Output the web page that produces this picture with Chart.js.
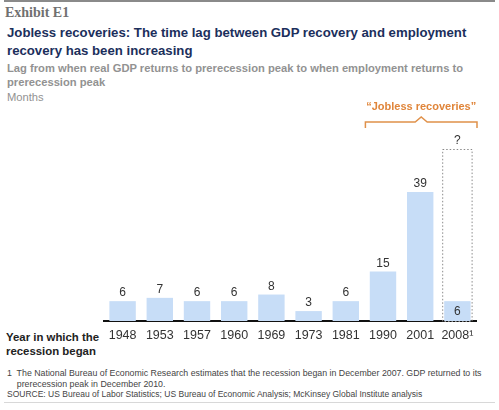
<!DOCTYPE html>
<html>
<head>
<meta charset="utf-8">
<script src="https://cdn.jsdelivr.net/npm/chart.js@4.4.1/dist/chart.umd.min.js"></script>
<style>
  html, body { margin:0; padding:0; background:#fff; }
  #wrap { position:relative; width:499px; height:410px; overflow:hidden; font-family:"Liberation Sans", Arial, sans-serif; }
  .t { position:absolute; left:7px; white-space:nowrap; }
  canvas { position:absolute; left:0; top:0; }
</style>
</head>
<body>
<div id="wrap">
  <div style="position:absolute;left:4px;top:0;width:491px;height:2px;background:#8a8a8a;"></div>
  <div class="t" style="left:5px;top:4px;font-family:'Liberation Serif','DejaVu Serif',serif;font-weight:bold;font-size:14px;line-height:18px;color:#707070;">Exhibit E1</div>
  <div class="t" style="top:24px;font-weight:bold;font-size:13.2px;line-height:18px;color:#1c2f5c;">Jobless recoveries: The time lag between GDP recovery and employment<br>recovery has been increasing</div>
  <div class="t" style="top:61px;font-weight:bold;font-size:11.2px;line-height:14px;color:#929292;">Lag from when real GDP returns to prerecession peak to when employment returns to<br>prerecession peak</div>
  <div class="t" style="top:90px;font-size:11.2px;line-height:14px;color:#929292;">Months</div>
  <div class="t" style="left:6px;top:330px;font-weight:bold;font-size:11.4px;line-height:14px;color:#222;">Year in which the<br>recession began</div>
  <div class="t" style="top:368px;font-size:8.8px;line-height:10.5px;color:#444;">1&nbsp; The National Bureau of Economic Research estimates that the recession began in December 2007. GDP returned to its<br>&nbsp;&nbsp;&nbsp;&nbsp;prerecession peak in December 2010.</div>
  <div class="t" style="top:389px;font-size:8.5px;line-height:11px;color:#444;">SOURCE: US Bureau of Labor Statistics; US Bureau of Economic Analysis; McKinsey Global Institute analysis</div>
  <div style="position:absolute;left:4px;top:402px;width:491px;height:1px;background:#d8d8d8;"></div>
  <canvas id="c" width="499" height="410"></canvas>
</div>
<script>
const years = ["1948","1953","1957","1960","1969","1973","1981","1990","2001","2008\u00B9"];
const lagMonths = [6, 7, 6, 6, 8, 3, 6, 15, 39, 6];
const unknownUpper = [null, null, null, null, null, null, null, null, null, 52];
const unknownLabel = "?";
const joblessGroup = ["1990", "2008\u00B9"];
const joblessText = "\u201CJobless recoveries\u201D";

const overlay = {
  id: 'overlay',
  beforeDatasetsDraw(chart) {
    const ctx = chart.ctx;
    const y = chart.scales.y;
    const meta = chart.getDatasetMeta(0);
    ctx.save();
    unknownUpper.forEach((v, i) => {
      if (v == null) return;
      const bar = meta.data[i];
      const half = bar.width / 2 + 2;
      const top = y.getPixelForValue(v);
      const bot = y.getPixelForValue(0);
      ctx.strokeStyle = '#8a8a8a';
      ctx.lineWidth = 1;
      ctx.setLineDash([1.5, 2]);
      ctx.strokeRect(bar.x - half + 0.5, top + 0.5, half * 2 - 1, bot - top);
      ctx.setLineDash([]);
    });
    ctx.restore();
  },
  afterDatasetsDraw(chart) {
    const ctx = chart.ctx;
    const x = chart.scales.x, y = chart.scales.y;
    const meta = chart.getDatasetMeta(0);
    ctx.save();
    ctx.font = '12px "Liberation Sans", Arial, sans-serif';
    ctx.fillStyle = '#333';
    ctx.textAlign = 'center';
    ctx.textBaseline = 'middle';
    lagMonths.forEach((v, i) => {
      const bar = meta.data[i];
      if (unknownUpper[i] != null) {
        ctx.fillText(String(v), bar.x, (bar.y + bar.base) / 2 + 1);
        ctx.fillText(unknownLabel, bar.x, y.getPixelForValue(unknownUpper[i]) - 8);
      } else {
        ctx.fillText(String(v), bar.x, bar.y - 8);
      }
    });
    const i0 = years.indexOf(joblessGroup[0]), i1 = years.indexOf(joblessGroup[1]);
    const step = x.getPixelForValue(1) - x.getPixelForValue(0);
    const xl = x.getPixelForValue(i0) - step / 2 + 1;
    const xr = x.getPixelForValue(i1) + step / 2 + 1;
    const xm = (xl + xr) / 2;
    const by = chart.chartArea.top - 27;
    ctx.strokeStyle = '#e0914a';
    ctx.lineWidth = 1.5;
    ctx.beginPath();
    ctx.moveTo(xl, by + 6);
    ctx.lineTo(xl, by);
    ctx.lineTo(xm - 6, by);
    ctx.lineTo(xm, by - 5);
    ctx.lineTo(xm + 6, by);
    ctx.lineTo(xr, by);
    ctx.lineTo(xr, by + 6);
    ctx.stroke();
    ctx.fillStyle = '#e0853a';
    ctx.font = 'bold 11px "Liberation Sans", Arial, sans-serif';
    ctx.fillText(joblessText, xm, by - 15);
    ctx.restore();
  }
};

new Chart(document.getElementById('c'), {
  type: 'bar',
  data: {
    labels: years,
    datasets: [{
      data: lagMonths,
      backgroundColor: '#c7ddf7',
      borderWidth: 0,
      categoryPercentage: 1,
      barPercentage: 0.71
    }]
  },
  options: {
    responsive: false,
    animation: false,
    events: [],
    layout: { padding: { left: 104, right: 23, top: 149, bottom: 60 } },
    plugins: { legend: { display: false }, tooltip: { enabled: false }, title: { display: false } },
    scales: {
      x: {
        grid: { display: false, drawTicks: false },
        border: { display: true, color: '#111', width: 2 },
        ticks: { color: '#333', font: { family: '"Liberation Sans", Arial, sans-serif', size: 12.5 }, padding: 7, maxRotation: 0, autoSkip: false }
      },
      y: { display: false, min: 0, max: 52 }
    }
  },
  plugins: [overlay]
});
</script>
</body>
</html>
